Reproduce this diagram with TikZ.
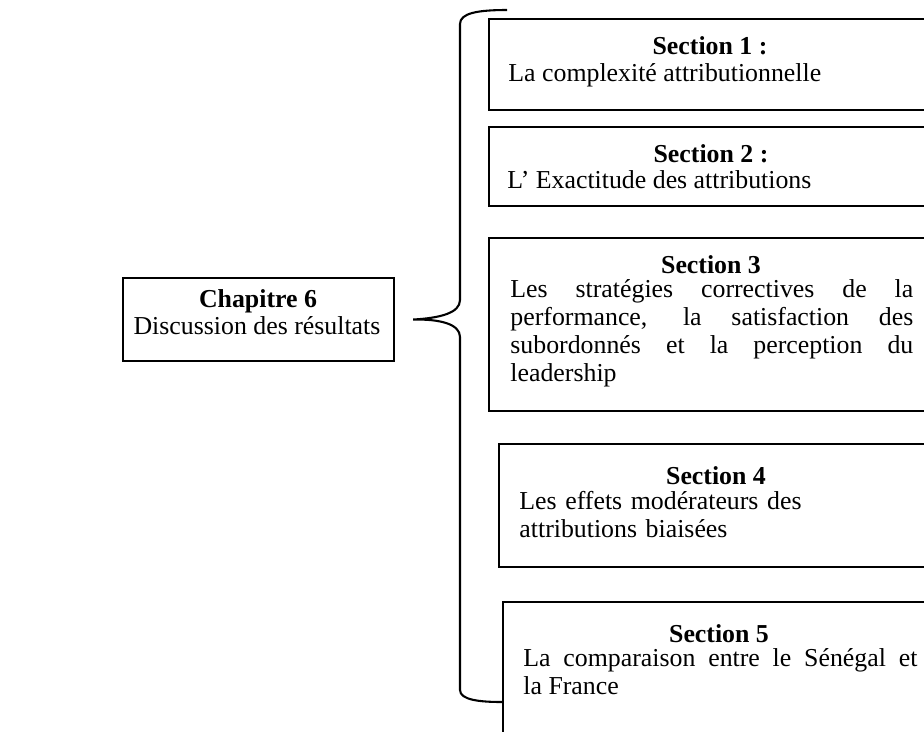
\documentclass[tikz,border=0pt]{standalone}
\usepackage{fontspec}
\setmainfont{Liberation Serif}
\usetikzlibrary{calc,positioning}
\tikzset{
    secbox/.style={
        rectangle,
        draw=black, line width=1pt,
        anchor=north west,
        inner sep=0pt
    },
    headtext/.style={
        font={\fontsize{12.4pt}{13.5pt}\selectfont\bfseries},
        anchor=base, inner sep=0pt
    },
    plaintext/.style={
        font={\fontsize{12.4pt}{13.5pt}\selectfont},
        anchor=base, inner sep=0pt
    },
    bodytext/.style={
        font={\fontsize{12.4pt}{13.44pt}\selectfont\hyphenpenalty=10000\tolerance=9999},
        anchor=base west, inner sep=0pt
    },
    bracel/.style={draw, line width=1pt},
}

\begin{document}
\begin{tikzpicture}[x=0.48pt, y=-0.48pt]
\useasboundingbox (0,0) rectangle (924,731);
\clip (0,0) rectangle (924,731);

% chapter
\node [secbox, minimum width={271*0.48pt}, minimum height={83*0.48pt}] (chap) at (122,277) {};
\node [headtext] (chap-head) at (258,307) {Chapitre 6};
\node [plaintext] (chap-text) at (257,334) {Discussion des résultats};

% section boxes, cut by the right edge
\foreach \n/\l/\t/\b in {1/488/18/109, 2/488/126/205, 3/488/237/410, 4/498/443/566, 5/502/601/780}
  \node [secbox, minimum width={(990-\l)*0.48pt}, minimum height={(\b-\t)*0.48pt}] (sec-\n) at (\l,\t) {};

\foreach \n/\x/\y/\h in {1/710/54/{Section 1 :}, 2/711/162/{Section 2 :}, 3/711/273/{Section 3}, 4/716/484/{Section 4}, 5/719/642/{Section 5}}
  \node [headtext] (head-\n) at (\x,\y) {\h};

\node [bodytext] (text-1) at (508,81) {La complexité attributionnelle};
\node [bodytext] (text-2) at (507,188) {L’ Exactitude des attributions};
\node [bodytext, text width=193.4pt, align=justify] (text-3) at (510,297)
  {Les stratégies correctives de la\linebreak performance, la satisfaction des\linebreak subordonnés et la perception du\linebreak leadership};
\node [bodytext, text width=182pt, align=left] (text-4) at (519,509)
  {Les effets modérateurs des\\ attributions biaisées};
\node [bodytext, text width=189.1pt, align=justify] (text-5) at (523,666)
  {La comparaison entre le Sénégal et\linebreak la France};

% brace
\coordinate (brace-top) at (507,10);
\coordinate (brace-tip) at ($(chap.east)+(18,0)$);
\coordinate (brace-bot) at (502,702);
\draw [bracel] (brace-top) .. controls (478,10) and (460,13) .. (460,24)
  -- (460,300) .. controls (460,313) and (440,318) .. (brace-tip)
  .. controls (440,319) and (460,324) .. (460,337)
  -- (460,690) .. controls (460,700) and (480,702) .. (brace-bot);

\end{tikzpicture}
\end{document}
